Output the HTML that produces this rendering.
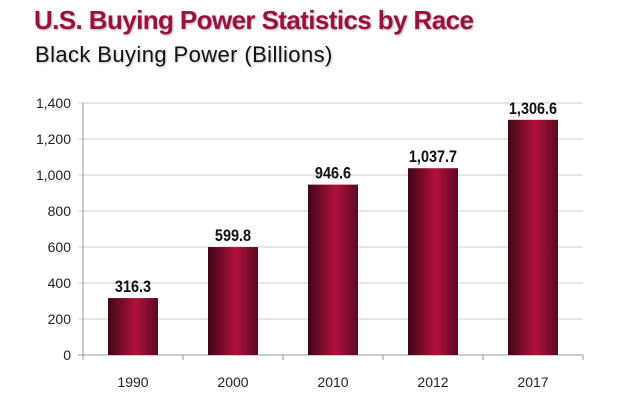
<!DOCTYPE html>
<html><head><meta charset="utf-8"><style>
body{margin:0;background:#fff;width:621px;height:400px;overflow:hidden;font-family:"Liberation Sans",sans-serif}
.t{position:absolute;left:34px;top:5px;font-size:26px;font-weight:bold;color:#9b1040;text-shadow:1px 1px 2px rgba(0,0,0,.3);letter-spacing:-0.6px}
.s{position:absolute;left:35px;top:42px;font-size:22px;color:#111;text-shadow:1px 1px 2px rgba(0,0,0,.25);letter-spacing:0.4px}
</style></head><body>
<div class="t">U.S. Buying Power Statistics by Race</div>
<div class="s">Black Buying Power (Billions)</div>
<svg id="c" width="621" height="400" style="position:absolute;left:0;top:0">
<defs><linearGradient id="g" x1="0" x2="1" y1="0" y2="0">
<stop offset="0" stop-color="#3e0614"/><stop offset="0.55" stop-color="#b3103c"/><stop offset="1" stop-color="#5a0a22"/></linearGradient></defs>
</svg>
<script>
const categories=["1990","2000","2010","2012","2017"];
const values=[316.3,599.8,946.6,1037.7,1306.6];
const labels=["316.3","599.8","946.6","1,037.7","1,306.6"];
const ticks=[0,200,400,600,800,1000,1200,1400];
const tickLabels=["0","200","400","600","800","1,000","1,200","1,400"];
const svg=document.getElementById('c'),NS="http://www.w3.org/2000/svg";
const x0=83,x1=583,y0=355,y1=103,vmax=1400;
const y=v=>y0-(v/vmax)*(y0-y1);
const cw=(x1-x0)/categories.length;
const xc=i=>x0+cw*(i+0.5);
function mk(t,a){const e=document.createElementNS(NS,t);for(const k in a)e.setAttribute(k,a[k]);svg.appendChild(e);return e;}
ticks.forEach((t,i)=>{
const l=mk('line',{x1:x0-5,x2:x1,y1:y(t),y2:y(t),stroke:i==0?'#999':'#ccc','stroke-width':1});


const tx=mk('text',{x:x0-12,y:y(t)+5,'text-anchor':'end','font-size':14,fill:'#222'});
tx.textContent=tickLabels[i];


});
for(let i=0;i<=categories.length;i++){
const tk=mk('line',{x1:x0+cw*i,x2:x0+cw*i,y1:y0,y2:y0+5,stroke:'#999'});


}
const ax=mk('line',{x1:x0,x2:x0,y1:y1,y2:y0,stroke:'#999'});


categories.forEach((c,i)=>{
const r=mk('rect',{x:xc(i)-25,y:y(values[i]),width:50,height:y0-y(values[i]),fill:'url(#g)'});


const v=mk('text',{x:xc(i),y:y(values[i])-6,'text-anchor':'middle','font-size':17,'font-weight':'bold',fill:'#111',transform:`translate(${xc(i)*0.15},0) scale(0.85,1)`});
v.textContent=labels[i];


const cl=mk('text',{x:xc(i),y:387,'text-anchor':'middle','font-size':14,fill:'#222'});
cl.textContent=c;


});
</script>
</body></html>
